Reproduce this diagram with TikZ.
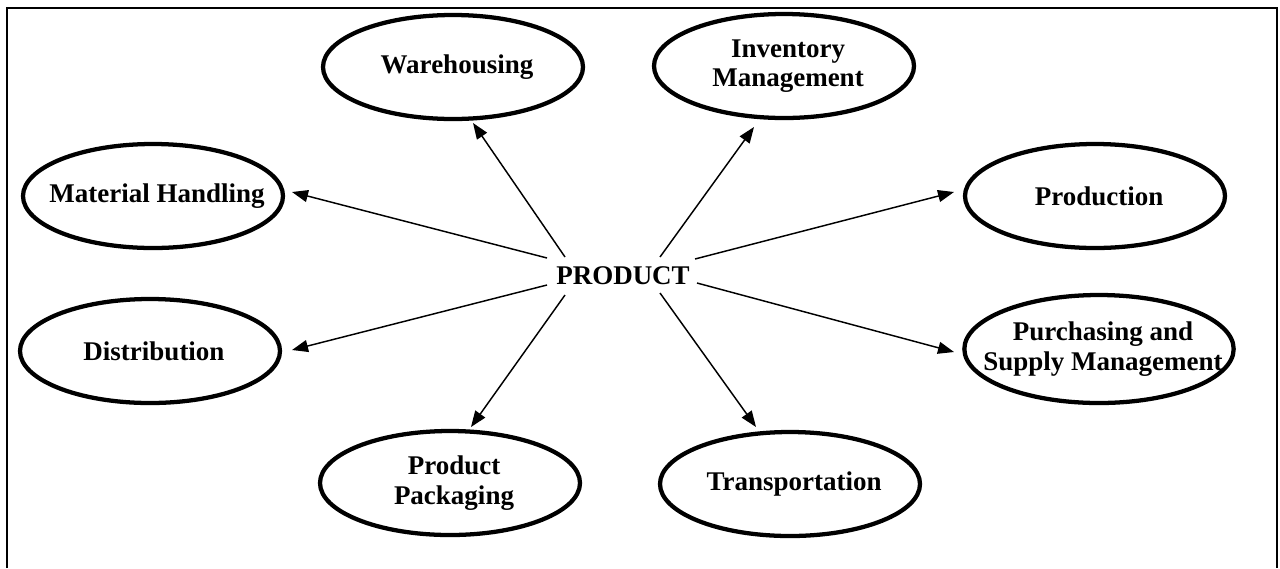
\documentclass[tikz,border=0pt]{standalone}
\usepackage{fontspec}
\setmainfont{Liberation Serif}
\usetikzlibrary{shapes.geometric,arrows.meta,calc}
\begin{document}
\begin{tikzpicture}[x=0.75pt,y=-0.75pt,
  lbl/.style={font=\bfseries\fontsize{20.25}{22}\selectfont, align=center, inner sep=0pt, xshift=3pt},
  oval/.style={ellipse, draw, line width=3.2pt, inner sep=0pt,
               minimum width=195pt, minimum height=78pt},
  bigoval/.style={oval, minimum width=202pt, minimum height=81pt},
  arr/.style={line width=1.1pt, -{Triangle[length=12pt,width=9pt]}},
  frame/.style={line width=2pt}
]
\useasboundingbox (0,0) rectangle (1280,568);

% open frame: left, top and right sides
\draw[frame] (7,568) -- (7,8) -- (1277,8) -- (1277,568);

% centre word
\node[font=\bfseries\fontsize{20.25}{22}\selectfont, inner sep=0pt] (prod) at (623,276) {PRODUCT};

% surrounding activities
\node[oval, label={[lbl]center:Warehousing}] (wh) at (453,67) {};
\node[oval, label={[lbl]center:Inventory\\Management}] (inv) at (784,66) {};
\node[oval, label={[lbl]center:Material Handling}] (mh) at (153,196) {};
\node[oval, label={[lbl]center:Production}] (pdn) at (1095,196) {};
\node[oval, label={[lbl]center:Distribution}] (dist) at (150,351) {};
\node[bigoval, label={[lbl]center:Purchasing and\\Supply Management}] (purch) at (1099,349) {};
\node[oval, label={[lbl]center:Product\\Packaging}] (pack) at (450,483) {};
\node[oval, label={[lbl]center:Transportation}] (trans) at (790,484) {};

% arrows from the centre word outwards
\draw[arr] ($(prod)+(-58,-19)$) -- ($(wh)+(20,56)$);
\draw[arr] ($(prod)+(-76,-18)$) -- ($(mh)+(139,-4)$);
\draw[arr] ($(prod)+(37,-19)$) -- ($(inv)+(-30,61)$);
\draw[arr] ($(prod)+(72,-17)$) -- ($(pdn)+(-141,-4)$);
\draw[arr] ($(prod)+(-76,9)$) -- ($(dist)+(142,-1)$);
\draw[arr] ($(prod)+(-58,19)$) -- ($(pack)+(21,-56)$);
\draw[arr] ($(prod)+(74,7)$) -- ($(purch)+(-145,3)$);
\draw[arr] ($(prod)+(37,17)$) -- ($(trans)+(-34,-57)$);
\end{tikzpicture}
\end{document}
